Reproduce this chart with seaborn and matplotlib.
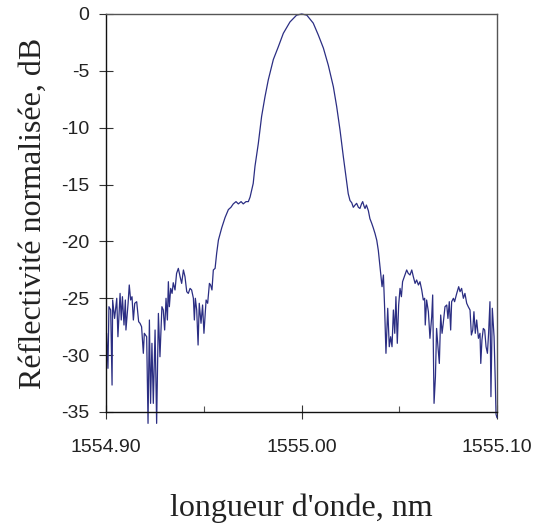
import matplotlib
matplotlib.use("Agg")
import matplotlib.pyplot as plt
import seaborn as sns
import pandas as pd
from matplotlib.ticker import FixedLocator, FixedFormatter

wavelength_nm = [
    1554.9003, 1554.9010, 1554.9015, 1554.9024, 1554.9031, 1554.9034, 1554.9044, 1554.9055,
    1554.9061, 1554.9072, 1554.9078, 1554.9084, 1554.9092, 1554.9099, 1554.9102, 1554.9113,
    1554.9119, 1554.9126, 1554.9133, 1554.9140, 1554.9147, 1554.9157, 1554.9167, 1554.9174,
    1554.9182, 1554.9191, 1554.9196, 1554.9208, 1554.9215, 1554.9222, 1554.9228, 1554.9235,
    1554.9242, 1554.9251, 1554.9259, 1554.9268, 1554.9276, 1554.9286, 1554.9293, 1554.9300,
    1554.9307, 1554.9314, 1554.9319, 1554.9324, 1554.9331, 1554.9338, 1554.9344, 1554.9353,
    1554.9361, 1554.9370, 1554.9379, 1554.9387, 1554.9396, 1554.9404, 1554.9413, 1554.9421,
    1554.9430, 1554.9438, 1554.9447, 1554.9452, 1554.9457, 1554.9464, 1554.9471, 1554.9477,
    1554.9486, 1554.9494, 1554.9501, 1554.9512, 1554.9520, 1554.9529, 1554.9535, 1554.9542,
    1554.9549, 1554.9558, 1554.9566, 1554.9575, 1554.9592, 1554.9609, 1554.9626, 1554.9639,
    1554.9651, 1554.9665, 1554.9677, 1554.9691, 1554.9702, 1554.9716, 1554.9728, 1554.9737,
    1554.9745, 1554.9753, 1554.9762, 1554.9779, 1554.9796, 1554.9813, 1554.9830, 1554.9856,
    1554.9881, 1554.9907, 1554.9941, 1554.9975, 1555.0001, 1555.0027, 1555.0060, 1555.0086,
    1555.0112, 1555.0137, 1555.0163, 1555.0180, 1555.0197, 1555.0214, 1555.0231, 1555.0239,
    1555.0248, 1555.0257, 1555.0265, 1555.0274, 1555.0282, 1555.0291, 1555.0299, 1555.0307,
    1555.0313, 1555.0320, 1555.0325, 1555.0332, 1555.0342, 1555.0350, 1555.0359, 1555.0367,
    1555.0376, 1555.0385, 1555.0393, 1555.0405, 1555.0412, 1555.0419, 1555.0425, 1555.0432,
    1555.0441, 1555.0449, 1555.0456, 1555.0463, 1555.0470, 1555.0477, 1555.0483, 1555.0490,
    1555.0497, 1555.0504, 1555.0511, 1555.0517, 1555.0529, 1555.0538, 1555.0546, 1555.0555,
    1555.0564, 1555.0572, 1555.0581, 1555.0589, 1555.0598, 1555.0606, 1555.0615, 1555.0623,
    1555.0630, 1555.0633, 1555.0640, 1555.0649, 1555.0657, 1555.0666, 1555.0671, 1555.0678,
    1555.0685, 1555.0691, 1555.0698, 1555.0705, 1555.0712, 1555.0719, 1555.0725, 1555.0734,
    1555.0743, 1555.0749, 1555.0756, 1555.0763, 1555.0768, 1555.0777, 1555.0783, 1555.0794,
    1555.0804, 1555.0811, 1555.0819, 1555.0828, 1555.0836, 1555.0845, 1555.0853, 1555.0862,
    1555.0869, 1555.0876, 1555.0882, 1555.0889, 1555.0896, 1555.0905, 1555.0913, 1555.0917,
    1555.0923, 1555.0930, 1555.0937, 1555.0944, 1555.0951, 1555.0957, 1555.0964, 1555.0969,
    1555.0976, 1555.0985, 1555.0991, 1555.0995, 1555.1000,
]

reflectivity_db = [
    -28.08, -31.16, -25.74, -26.03, -32.63, -25.15, -26.77, -25.00,
    -28.38, -24.57, -26.91, -24.86, -27.35, -25.15, -27.79, -25.44,
    -23.83, -25.15, -24.86, -26.91, -25.44, -25.30, -27.06, -27.20,
    -27.50, -29.84, -28.08, -28.38, -36.00, -26.91, -34.24, -28.96,
    -34.24, -27.79, -36.00, -26.33, -30.14, -25.74, -26.03, -27.79,
    -25.00, -26.91, -23.54, -25.74, -24.13, -24.57, -23.63, -24.27,
    -22.81, -22.37, -23.10, -23.69, -22.51, -23.10, -24.42, -24.57,
    -24.13, -24.27, -25.00, -26.91, -25.00, -26.03, -29.11, -25.44,
    -27.20, -25.59, -28.08, -25.15, -25.44, -23.69, -23.83, -24.27,
    -22.51, -22.37, -21.05, -19.88, -18.80, -17.90, -17.20, -17.00,
    -16.70, -16.50, -16.70, -16.50, -16.70, -16.50, -16.50, -16.10,
    -15.50, -14.90, -13.40, -11.40, -9.00, -7.30, -5.80, -4.00,
    -2.90, -1.70, -0.70, -0.10, 0.00, -0.10, -0.80, -1.85,
    -3.00, -4.50, -6.40, -8.15, -10.20, -12.55, -14.80, -15.80,
    -16.40, -16.60, -17.00, -16.80, -16.65, -17.00, -17.10, -16.70,
    -16.50, -16.90, -17.10, -16.80, -17.30, -18.00, -18.40, -18.80,
    -19.30, -19.90, -20.80, -22.81, -23.98, -22.95, -25.74, -29.84,
    -25.88, -29.26, -28.38, -29.26, -26.03, -28.08, -24.86, -28.96,
    -25.59, -24.13, -24.86, -23.54, -22.95, -22.51, -22.81, -22.95,
    -22.51, -23.10, -23.69, -23.39, -23.83, -23.54, -24.27, -25.15,
    -25.00, -27.35, -25.15, -26.18, -28.52, -26.62, -24.71, -34.24,
    -31.90, -27.65, -29.26, -30.73, -26.47, -28.08, -27.20, -25.74,
    -25.59, -26.77, -25.30, -27.79, -25.30, -25.00, -25.30, -24.57,
    -23.98, -24.42, -24.13, -25.00, -24.57, -25.44, -25.74, -26.03,
    -28.23, -27.79, -26.18, -28.08, -26.91, -28.52, -28.08, -30.73,
    -28.67, -27.65, -27.79, -29.26, -29.84, -28.08, -25.30, -33.65,
    -25.88, -28.38, -32.19, -35.20, -35.50,
]

x_major = [1554.90, 1555.00, 1555.10]
x_major_labels = ["1554.90", "1555.00", "1555.10"]
x_minor = [1554.95, 1555.05]
y_ticks = [0, -5, -10, -15, -20, -25, -30, -35]
y_tick_labels = ["0", "-5", "-10", "-15", "-20", "-25", "-30", "-35"]

df = pd.DataFrame({"wl": wavelength_nm, "db": reflectivity_db})

sns.set_style("white")
plt.rcParams["font.family"] = ["Liberation Sans", "DejaVu Sans"]
plt.rcParams["axes.unicode_minus"] = False

fig = plt.figure(figsize=(5.36, 5.24), dpi=100)
ax = fig.add_axes([106/536, 1-412/524, (497-106)/536, (412-14)/524])

sns.lineplot(data=df, x="wl", y="db", ax=ax, sort=False, estimator=None,
             color="#2B2E83", linewidth=0.9, clip_on=False)

ax.set_xlim(1554.90, 1555.10)
ax.set_ylim(-35, 0)

ax.xaxis.set_major_locator(FixedLocator(x_major))
ax.xaxis.set_major_formatter(FixedFormatter(x_major_labels))
ax.xaxis.set_minor_locator(FixedLocator(x_minor))
ax.yaxis.set_major_locator(FixedLocator(y_ticks))
ax.yaxis.set_major_formatter(FixedFormatter(y_tick_labels))

ax.tick_params(axis="x", which="both", bottom=True, top=False)
ax.tick_params(axis="y", which="both", left=True, right=False)
ax.tick_params(axis="x", which="major", direction="inout", length=9.5, width=0.8,
               color="#333333", pad=15, labelsize=14, labelcolor="#222222")
ax.tick_params(axis="x", which="minor", direction="in", length=4.5, width=0.8,
               color="#555555")
ax.tick_params(axis="y", which="major", direction="inout", length=10, width=0.8,
               color="#333333", pad=7, labelsize=14, labelcolor="#222222")

for side in ["left", "bottom"]:
    ax.spines[side].set_color("#111111")
    ax.spines[side].set_linewidth(1.0)
for side in ["top", "right"]:
    ax.spines[side].set_visible(True)
    ax.spines[side].set_color("#555555")
    ax.spines[side].set_linewidth(1.0)

ax.set_xlabel("longueur d'onde, nm", family=["Liberation Serif", "DejaVu Serif"],
              fontsize=23, color="#222222")
ax.set_ylabel("Réflectivité normalisée, dB", family=["Liberation Serif", "DejaVu Serif"],
              fontsize=23, color="#222222")
ax.xaxis.set_label_coords(0.5, -0.205)
ax.yaxis.set_label_coords(-0.15, 0.5)

fig.savefig("out.png", dpi=100, facecolor="white")
